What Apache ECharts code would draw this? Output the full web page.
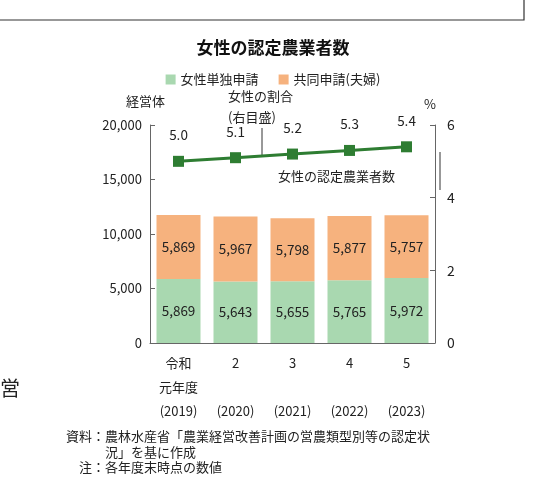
<!DOCTYPE html><html><head><meta charset="utf-8"><script src="https://cdn.jsdelivr.net/npm/echarts@6/dist/echarts.min.js"></script>
<style>body{margin:0}#c{width:546px;height:488px}</style></head><body><div id="c"></div><script>
const categories=['令和\n元年度\n(2019)','2\n\n(2020)','3\n\n(2021)','4\n\n(2022)','5\n\n(2023)'];
const single=[5869,5643,5655,5765,5972];
const joint=[5869,5967,5798,5877,5757];
const totals=[11738,11610,11453,11642,11729];
const ratio=[5.0,5.1,5.2,5.3,5.4];
const F='Noto Sans CJK JP';
const fmt=v=>v.toLocaleString('en-US');
const c=echarts.init(document.getElementById('c'));
c.setOption({
 textStyle:{fontFamily:F},
 title:{text:'女性の認定農業者数',left:'center',top:34,textStyle:{fontSize:17,fontWeight:'bold',color:'#111',fontFamily:F}},
 legend:{top:68,left:'center',itemWidth:10,itemHeight:10,itemGap:20,textStyle:{fontSize:13,color:'#222',fontFamily:F},data:[{name:'女性単独申請',icon:'rect'},{name:'共同申請(夫婦)',icon:'rect'}]},
 grid:{left:150,right:111,top:125,bottom:145},
 xAxis:{type:'category',data:categories,axisTick:{show:false},axisLine:{lineStyle:{color:'#666'}},axisLabel:{color:'#222',fontSize:13,lineHeight:24,margin:8}},
 yAxis:[{type:'value',min:0,max:20000,interval:5000,splitLine:{show:false},axisLine:{show:true,lineStyle:{color:'#666'}},axisTick:{show:true,inside:true},axisLabel:{color:'#222',fontSize:13,formatter:fmt}},
  {type:'value',min:0,max:6,interval:2,splitLine:{show:false},axisLine:{show:true,lineStyle:{color:'#666'}},axisTick:{show:true,inside:true},axisLabel:{color:'#222',fontSize:14,margin:12}}],
 series:[
  {name:'女性単独申請',type:'bar',stack:'a',barWidth:44,data:single,itemStyle:{color:'#a9d8b0'},label:{show:true,formatter:p=>fmt(p.value),color:'#222',fontSize:13.5}},
  {name:'共同申請(夫婦)',type:'bar',stack:'a',data:joint,itemStyle:{color:'#f6b27e'},label:{show:true,formatter:p=>fmt(p.value),color:'#222',fontSize:13.5}},
  {name:'total',type:'line',data:totals,symbol:'none',lineStyle:{opacity:0},silent:true,label:{show:true,position:'top',distance:3,formatter:p=>fmt(p.value),color:'#222',fontSize:13.5}},
  {name:'ratio',type:'line',yAxisIndex:1,data:ratio,symbol:'rect',symbolSize:11,lineStyle:{color:'#2e7d32',width:3},itemStyle:{color:'#2e7d32'},label:{show:true,position:'top',distance:14,formatter:p=>p.value.toFixed(1),color:'#222',fontSize:13.5}}
 ],
 graphic:[
  {type:'rect',shape:{x:-5,y:-5,width:529,height:25},style:{fill:'none',stroke:'#333',lineWidth:1.2}},
  {type:'text',left:126,top:95,style:{text:'経営体',fontSize:13,fill:'#222',fontFamily:F}},
  {type:'text',left:424,top:98,style:{text:'%',fontSize:13,fill:'#222',fontFamily:F}},
  {type:'text',left:228,top:86,style:{text:'女性の割合\n(右目盛)',fontSize:13,lineHeight:21,align:'left',fill:'#222',fontFamily:F}},
  {type:'line',shape:{x1:262,y1:128,x2:262,y2:156},style:{stroke:'#333',lineWidth:1}},
  {type:'text',left:278,top:170,style:{text:'女性の認定農業者数',fontSize:13,fill:'#222',fontFamily:F}},
  {type:'line',shape:{x1:440,y1:152,x2:440,y2:190},style:{stroke:'#333',lineWidth:1}},
  {type:'text',left:0,top:378,style:{text:'営',fontSize:20,fill:'#222',fontFamily:F}},
  {type:'text',left:66,top:428,style:{text:'資料：農林水産省「農業経営改善計画の営農類型別等の認定状\n　　　況」を基に作成',fontSize:13,lineHeight:16,fill:'#222',fontFamily:F}},
  {type:'text',left:79,top:461,style:{text:'注：各年度末時点の数値',fontSize:13,fill:'#222',fontFamily:F}}
 ]
});
</script></body></html>
